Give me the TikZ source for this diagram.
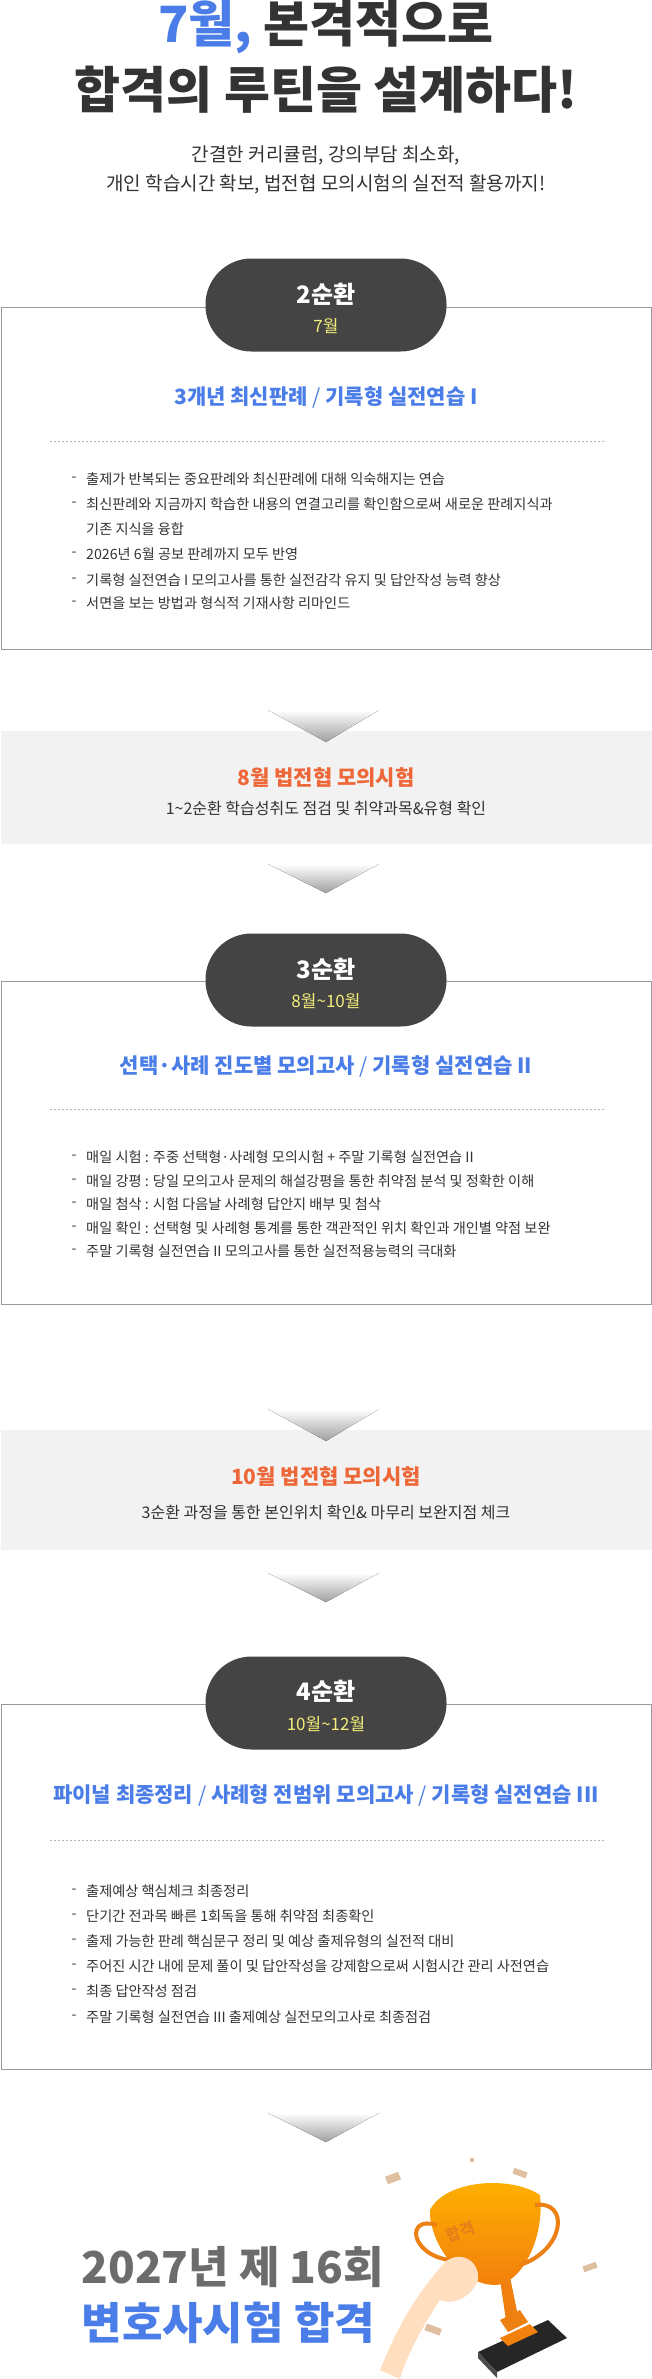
\documentclass[tikz,border=0pt]{standalone}
\usepackage{fontspec}
\setmainfont{Noto Sans CJK KR}
\usetikzlibrary{shapes.geometric}
\definecolor{txt}{HTML}{333333}
\definecolor{blu}{HTML}{4A7DE8}
\definecolor{org}{HTML}{EE6738}
\definecolor{pill}{HTML}{444444}
\definecolor{yel}{HTML}{F3EE7A}
\definecolor{band}{HTML}{F2F2F2}
\definecolor{frame}{HTML}{999999}
\begin{document}
\begin{tikzpicture}[x=1pt,y=-1pt,
  pillst/.style={fill=pill,rounded corners=46pt,minimum width=241pt,minimum height=93pt,inner sep=0},
  boxst/.style={draw=frame,line width=0.8pt,fill=white},
  head/.style={font=\fontsize{21}{24}\selectfont\bfseries,text=blu},
  bul/.style={font=\fontsize{14.2}{24}\selectfont,text=txt,anchor=west,inner sep=0},
  dashmk/.style={font=\fontsize{14}{16}\selectfont,text=txt,inner sep=0},
  dots/.style={draw=gray!60,dash pattern=on 2pt off 2pt,line width=0.5pt},
  arr/.style={top color=white,bottom color=gray!75,draw=none},
  ptitle/.style={font=\fontsize{24}{26}\selectfont\bfseries,text=white},
  psub/.style={font=\fontsize{17}{20}\selectfont,text=yel}]
\useasboundingbox (0,0) rectangle (652,2379);
\fill[white] (0,0) rectangle (652,2379);
% title
\node[font=\fontsize{50}{56}\selectfont\bfseries,text=txt] (t1) at (326,27) {\textcolor{blu}{7월,} 본격적으로};
\node[font=\fontsize{50}{56}\selectfont\bfseries,text=txt] (t2) at (326,90) {합격의 루틴을 설계하다!};
\node[font=\fontsize{19}{22}\selectfont,text=txt] (s1) at (326,155) {간결한 커리큘럼, 강의부담 최소화,};
\node[font=\fontsize{19}{22}\selectfont,text=txt] (s2) at (326,184) {개인 학습시간 확보, 법전협 모의시험의 실전적 활용까지!};
% box 1
\draw[boxst] (1,307) rectangle (651,649);
\node[pillst] (p1) at (326,305) {};
\node[ptitle] (p1a) at (326,294) {2순환};
\node[psub] (p1b) at (326,326) {7월};
\node[head] (h1) at (326,397) {3개년 최신판례 \textmd{/} 기록형 실전연습 I};
\coordinate (d1a) at (50,441); \coordinate (d1b) at (606,441);
\draw[dots] (d1a) -- (d1b);
\foreach \y/\t in {479/출제가 반복되는 중요판례와 최신판례에 대해 익숙해지는 연습,
  504/최신판례와 지금까지 학습한 내용의 연결고리를 확인함으로써 새로운 판례지식과,
  554/2026년 6월 공보 판례까지 모두 반영,
  580/기록형 실전연습 I 모의고사를 통한 실전감각 유지 및 답안작성 능력 향상,
  603/서면을 보는 방법과 형식적 기재사항 리마인드}
  {\node[dashmk] at (74,\y) {-}; \node[bul] at (86,\y) {\t};}
\node[bul] (b1c) at (86,529) {기존 지식을 융합};
% arrow 1 + band 1
\fill[band] (1,731) rectangle (652,844);
\fill[arr] (268,710) -- (379,710) -- (326,742) -- cycle;
\node[font=\fontsize{21}{24}\selectfont\bfseries,text=org] (m1) at (326,778) {8월 법전협 모의시험};
\node[font=\fontsize{16}{20}\selectfont,text=txt] (m1s) at (326,808) {1\textasciitilde2순환 학습성취도 점검 및 취약과목\&유형 확인};
\fill[arr] (268,864) -- (379,864) -- (326,893) -- cycle;
% box 2
\draw[boxst] (1,981) rectangle (651,1304);
\node[pillst] (p2) at (326,980) {};
\node[ptitle] (p2a) at (326,969) {3순환};
\node[psub] (p2b) at (326,1001) {8월\textasciitilde10월};
\node[head] (h2) at (326,1066) {선택·사례 진도별 모의고사 \textmd{/} 기록형 실전연습 II};
\coordinate (d2a) at (50,1109); \coordinate (d2b) at (606,1109);
\draw[dots] (d2a) -- (d2b);
\foreach \y/\t in {1157/매일 시험 : 주중 선택형·사례형 모의시험 + 주말 기록형 실전연습 II,
  1181/매일 강평 : 당일 모의고사 문제의 해설강평을 통한 취약점 분석 및 정확한 이해,
  1204/매일 첨삭 : 시험 다음날 사례형 답안지 배부 및 첨삭,
  1228/매일 확인 : 선택형 및 사례형 통계를 통한 객관적인 위치 확인과 개인별 약점 보완,
  1251/주말 기록형 실전연습 II 모의고사를 통한 실전적용능력의 극대화}
  {\node[dashmk] at (74,\y) {-}; \node[bul] at (86,\y) {\t};}
% band 2
\fill[band] (1,1430) rectangle (652,1550);
\fill[arr] (268,1409) -- (379,1409) -- (326,1441) -- cycle;
\node[font=\fontsize{21}{24}\selectfont\bfseries,text=org] (m2) at (326,1477) {10월 법전협 모의시험};
\node[font=\fontsize{16}{20}\selectfont,text=txt] (m2s) at (326,1512) {3순환 과정을 통한 본인위치 확인\& 마무리 보완지점 체크};
\fill[arr] (268,1573) -- (379,1573) -- (326,1602) -- cycle;
% box 3
\draw[boxst] (1,1704) rectangle (651,2069);
\node[pillst] (p3) at (326,1703) {};
\node[ptitle] (p3a) at (326,1691) {4순환};
\node[psub] (p3b) at (326,1724) {10월\textasciitilde12월};
\node[head] (h3) at (326,1795) {파이널 최종정리 \textmd{/} 사례형 전범위 모의고사 \textmd{/} 기록형 실전연습 III};
\coordinate (d3a) at (50,1840); \coordinate (d3b) at (606,1840);
\draw[dots] (d3a) -- (d3b);
\foreach \y/\t in {1891/출제예상 핵심체크 최종정리,
  1916/단기간 전과목 빠른 1회독을 통해 취약점 최종확인,
  1941/출제 가능한 판례 핵심문구 정리 및 예상 출제유형의 실전적 대비,
  1966/주어진 시간 내에 문제 풀이 및 답안작성을 강제함으로써 시험시간 관리 사전연습,
  1991/최종 답안작성 점검,
  2017/주말 기록형 실전연습 III 출제예상 실전모의고사로 최종점검}
  {\node[dashmk] at (74,\y) {-}; \node[bul] at (86,\y) {\t};}
\fill[arr] (268,2113) -- (379,2113) -- (326,2142) -- cycle;
% final
\node[font=\fontsize{44}{48}\selectfont\bfseries,text=gray!85!black,anchor=west] (f1) at (78,2267) {2027년 제 16회};
\node[font=\fontsize{44}{48}\selectfont\bfseries,text=blu,anchor=west] (f2) at (78,2323) {변호사시험 합격};
% trophy
\fill[black!85] (478,2352) -- (548,2320) -- (567,2338) -- (497,2372) -- cycle;
\fill[black!70] (478,2352) -- (497,2372) -- (497,2378) -- (478,2358) -- cycle;
\fill[orange!80!brown] (500,2338) -- (530,2324) -- (538,2332) -- (508,2346) -- cycle;
\fill[orange!70!brown] (500,2320) -- (520,2310) -- (528,2322) -- (508,2332) -- cycle;
\fill[orange!75!brown] (500,2280) -- (510,2277) -- (518,2316) -- (506,2320) -- cycle;
\shade[top color=orange!60!yellow,bottom color=orange!80!brown] (430,2210) .. controls (445,2180) and (510,2175) .. (540,2195) .. controls (545,2240) and (520,2285) .. (495,2285) .. controls (465,2285) and (430,2250) .. (430,2210) -- cycle;
\draw[orange!70!brown,line width=4pt] (437,2225) .. controls (405,2215) and (410,2255) .. (450,2260);
\draw[orange!70!brown,line width=4pt] (535,2205) .. controls (570,2200) and (565,2250) .. (520,2265);
\node[font=\fontsize{16}{18}\selectfont\bfseries,text=orange!60!brown,rotate=20] (tr) at (460,2232) {합격};
\fill[orange!25!white] (380,2370) .. controls (400,2320) and (420,2290) .. (445,2262) .. controls (460,2250) and (480,2260) .. (478,2280) .. controls (470,2300) and (450,2305) .. (440,2300) .. controls (420,2330) and (405,2360) .. (400,2379) -- cycle;
\fill[brown!50!white,rotate around={20:(393,2178)}] (386,2174) rectangle (400,2182);
\fill[brown!50!white,rotate around={-20:(520,2173)}] (513,2170) rectangle (527,2176);
\fill[brown!50!white,rotate around={20:(590,2267)}] (583,2264) rectangle (597,2270);
\fill[brown!50!white,rotate around={-20:(433,2330)}] (425,2326) rectangle (441,2333);
\fill[brown!50!white] (470,2158) rectangle (474,2162);
\end{tikzpicture}
\end{document}
